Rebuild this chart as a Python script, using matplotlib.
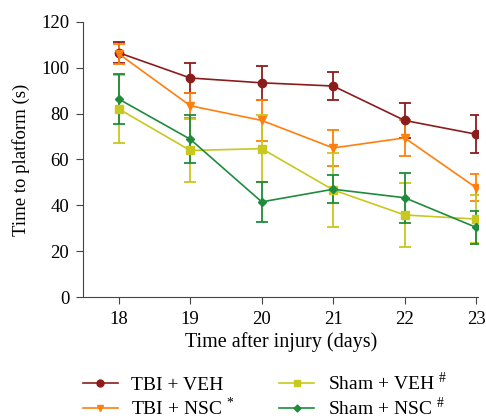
import matplotlib
matplotlib.use("Agg")
import matplotlib.pyplot as plt
from matplotlib.lines import Line2D
import numpy as np

plt.rcParams['font.family'] = ['Liberation Serif', 'DejaVu Serif']
plt.rcParams['mathtext.fontset'] = 'custom'
plt.rcParams['mathtext.rm'] = 'Liberation Serif'

############# DATA #############

days = [18, 19, 20, 21, 22, 23]

tbi_veh = [106.5, 95.5, 93.4, 92.0, 77.0, 71.0]
tbi_veh_err = [4.5, 6.5, 7.3, 6.0, 7.5, 8.3]

tbi_nsc = [106.0, 83.4, 77.0, 65.0, 69.4, 47.7]
tbi_nsc_err = [4.5, 5.5, 9.0, 8.0, 7.8, 5.8]

sham_veh = [82.0, 63.9, 64.7, 46.7, 35.8, 34.0]
sham_veh_err = [15.0, 13.7, 14.5, 16.0, 14.0, 10.5]

sham_nsc = [86.3, 68.8, 41.5, 47.0, 43.3, 30.4]
sham_nsc_err = [11.0, 10.5, 8.7, 6.0, 11.0, 7.2]

labels = ['TBI + VEH', 'TBI + NSC $^{*}$', 'Sham + VEH $^{\\#}$', 'Sham + NSC $^{\\#}$']
colors = ['#8b1c1c', '#ff7f0e', '#c8c81e', '#1e8c3c']
markers = ['o', 'v', 's', 'D']
msizes = [6, 6, 6, 4.5]

############# PLOT #############

fig = plt.figure(figsize=(4.86, 4.19), dpi=100)
ax = fig.add_axes([0.171, 0.291, 0.813, 0.657])

series = [(tbi_veh, tbi_veh_err), (tbi_nsc, tbi_nsc_err),
          (sham_veh, sham_veh_err), (sham_nsc, sham_nsc_err)]

handles = []
for (vals, errs), lab, c, m, ms in zip(series, labels, colors, markers, msizes):
    ax.errorbar(days, vals, yerr=errs, color=c, marker=m, markersize=ms,
                linewidth=1.2, elinewidth=1.3, capsize=4, capthick=1.3,
                ecolor=c)
    handles.append(Line2D([], [], color=c, marker=m, markersize=ms - 1,
                          linewidth=1.2, label=lab))

ax.set_xlim(17.5, 23.03)
ax.set_ylim(0, 120)
ax.set_xticks(days)
ax.set_yticks(np.arange(0, 121, 20))
ax.spines['top'].set_visible(False)
ax.spines['right'].set_visible(False)
ax.spines['left'].set_color('#444444')
ax.spines['bottom'].set_color('#444444')
ax.tick_params(labelsize=13.5, length=5, pad=5, color='#444444')
ax.set_xlabel('Time after injury (days)', fontsize=14.5, labelpad=3)
ax.set_ylabel('Time to platform (s)', fontsize=13.5, labelpad=8)

fig.legend(handles=handles, loc='upper center', bbox_to_anchor=(0.545, 0.137),
           ncol=2, frameon=False, fontsize=14, handlelength=1.8,
           columnspacing=2.3, labelspacing=0.12, handletextpad=0.7,
           borderpad=0)

plt.savefig('out.png', dpi=100)
